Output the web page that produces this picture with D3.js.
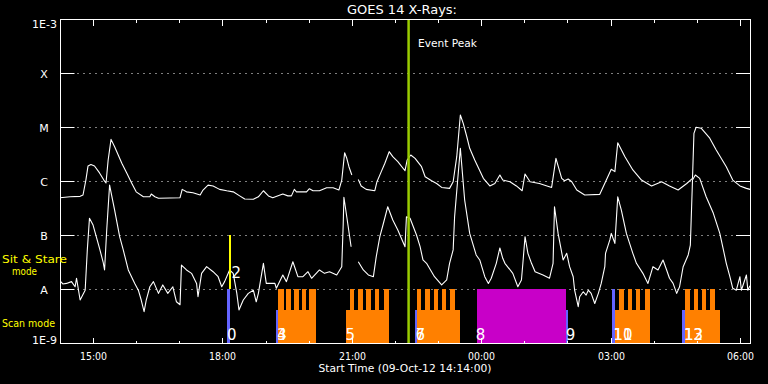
<!DOCTYPE html>
<html><head><meta charset="utf-8">
<script src="https://cdn.jsdelivr.net/npm/d3@7"></script>
<style>html,body{margin:0;padding:0;background:#000;} svg{display:block;}</style>
</head><body><svg id="c" width="768" height="384"></svg>
<script>
// ---------- DATA ----------
const startTime = new Date(2012, 9, 9, 14, 14, 0);   // 09-Oct-12 14:14:00
const durationMin = 960;
const yTickValues = [1e-9, 1e-8, 1e-7, 1e-6, 1e-5, 1e-4, 1e-3];
const yTickLabels = ["1E-9", "A", "B", "C", "M", "X", "1E-3"];
const xTickFormat = "%H:%M";
// [minutes since start, flux W/m^2]  (1-8 A channel)
const longChannel = [[0,4.9e-7],[14,5.1e-7],[28,5.2e-7],[32,5.5e-7],[36,1.04e-6],[39,1.9e-6],[43,2.02e-6],[48,1.9e-6],[55,1.41e-6],[61,1.04e-6],[64,9.2e-7],[67,2.45e-6],[71,5.9e-6],[76,4.3e-6],[81,3.03e-6],[86,2.13e-6],[93,1.39e-6],[100,9.0e-7],[106,6.3e-7],[116,5.1e-7],[125,5.1e-7],[127,5.75e-7],[132,5.1e-7],[137,4.78e-7],[153,4.85e-7],[167,4.9e-7],[170,7.0e-7],[176,6.3e-7],[185,6.07e-7],[195,5.5e-7],[199,6.8e-7],[206,8.4e-7],[213,8.1e-7],[222,7.0e-7],[232,6.6e-7],[241,6.3e-7],[250,5.3e-7],[257,4.64e-7],[269,4.58e-7],[276,5.1e-7],[283,6.6e-7],[290,5.3e-7],[296,4.9e-7],[310,5.75e-7],[317,5.3e-7],[322,5.3e-7],[326,7.0e-7],[329,6.3e-7],[343,6.3e-7],[347,7.2e-7],[352,6.6e-7],[361,6.6e-7],[371,7.5e-7],[380,7.5e-7],[388,6.8e-7],[392,1.04e-6],[396,3.34e-6],[399,2.63e-6],[402,1.84e-6],[406,1.29e-6],[410,null],[415,1.07e-6],[419,8.1e-7],[426,7.0e-7],[438,6.6e-7],[441,9.7e-7],[447,1.49e-6],[452,2.13e-6],[458,3.49e-6],[463,2.82e-6],[470,2.28e-6],[480,1.55e-6],[483,2.45e-6],[488,3.03e-6],[494,2.63e-6],[503,1.84e-6],[508,1.2e-6],[517,1.01e-6],[524,9.0e-7],[531,7.6e-7],[542,7.3e-7],[547,9.7e-7],[552,2.82e-6],[557,1.67e-5],[561,1.17e-5],[566,6.6e-6],[570,4.03e-6],[577,2.45e-6],[589,1.12e-6],[598,8.1e-7],[605,9.0e-7],[612,1.29e-6],[616,1.04e-6],[626,9.7e-7],[635,8.1e-7],[643,6.6e-7],[647,1.35e-6],[654,9.7e-7],[667,9.0e-7],[684,7.6e-7],[690,2.63e-6],[698,1.12e-6],[702,1.01e-6],[707,1.09e-6],[712,9.7e-7],[719,6.8e-7],[730,5.5e-7],[751,5.66e-7],[759,9.7e-7],[767,1.65e-6],[772,1.49e-6],[776,5.1e-6],[786,2.82e-6],[797,1.6e-6],[809,1.04e-6],[823,8.1e-7],[837,9.7e-7],[848,8.1e-7],[860,6.8e-7],[872,9.0e-7],[880,1.12e-6],[882,7.6e-6],[885,9.9e-6],[892,9.5e-6],[904,6.2e-6],[913,3.75e-6],[927,1.84e-6],[936,1.04e-6],[946,8.1e-7],[955,7.3e-7],[960,7.0e-7]];
// (0.5-4 A channel)
const shortChannel = [[1,1.37e-8],[4,1.24e-8],[9,1.27e-8],[16,1.37e-8],[21,1.1e-8],[23,1.58e-8],[28,6.25e-9],[35,9.5e-9],[38,5.3e-8],[41,2.04e-7],[46,1.53e-7],[55,5.66e-8],[60,3.16e-8],[62,2.25e-8],[65,1.24e-7],[69,8.4e-7],[76,2.9e-7],[83,9.3e-8],[88,5.3e-8],[95,2.25e-8],[104,1.27e-8],[109,9.5e-9],[113,6.25e-9],[117,3.8e-9],[120,6.25e-9],[125,1.1e-8],[130,1.37e-8],[137,8.3e-9],[143,1.19e-8],[150,8.3e-9],[157,1.1e-8],[162,5.8e-9],[167,5.1e-9],[169,2.78e-8],[176,2.25e-8],[183,1.95e-8],[190,1.27e-8],[192,7.2e-9],[197,1.95e-8],[204,2.59e-8],[213,2.09e-8],[220,1.69e-8],[225,1.1e-8],[229,1.37e-8],[236,2.25e-8],[241,1.95e-8],[246,8.3e-9],[249,4.08e-9],[255,6.25e-9],[262,8.3e-9],[269,9.5e-9],[273,5.8e-9],[276,8.3e-9],[283,2.99e-8],[287,1.27e-8],[299,1.27e-8],[301,1.03e-8],[310,1.82e-8],[315,1.37e-8],[324,3.2e-8],[331,1.69e-8],[338,1.69e-8],[345,2.09e-8],[350,1.58e-8],[361,2.25e-8],[368,1.95e-8],[375,2.09e-8],[385,1.82e-8],[392,2.59e-8],[394,1.53e-7],[395,5.0e-7],[401,1.42e-7],[405,6.07e-8],[410,null],[415,3.2e-8],[422,2.25e-8],[429,1.82e-8],[436,1.69e-8],[440,3.97e-8],[445,9.3e-8],[450,1.65e-7],[456,3.34e-7],[463,1.9e-7],[470,1.24e-7],[480,6.07e-8],[482,2.18e-7],[487,2.04e-7],[496,1e-7],[501,6.07e-8],[505,3.45e-8],[510,2.99e-8],[521,1.69e-8],[531,1.19e-8],[538,1.47e-8],[542,2.99e-8],[547,5.3e-8],[549,2.18e-7],[557,4.03e-6],[563,4.45e-7],[570,1.07e-7],[579,4.27e-8],[584,3.45e-8],[591,1.69e-8],[596,1.27e-8],[600,1.58e-8],[607,2.99e-8],[612,5.75e-8],[616,3.7e-8],[619,2.99e-8],[630,1.95e-8],[637,1.1e-8],[642,1.47e-8],[644,2.99e-8],[647,9.3e-8],[651,4.58e-8],[656,2.99e-8],[661,2.09e-8],[672,1.82e-8],[681,1.58e-8],[686,2.99e-8],[688,3.34e-7],[693,1.07e-7],[700,3.45e-8],[705,4.58e-8],[709,2.59e-8],[714,1.69e-8],[716,9.5e-9],[721,4.7e-9],[723,7.2e-9],[728,8.9e-9],[732,7.7e-9],[735,9.5e-9],[739,8.3e-9],[744,5.4e-9],[749,8.3e-9],[753,1.27e-8],[758,2.59e-8],[759,4.58e-8],[765,8.1e-8],[767,1.07e-7],[772,7.0e-8],[776,5.1e-7],[781,2.9e-7],[788,1.07e-7],[797,4.58e-8],[802,2.99e-8],[811,1.95e-8],[818,1.27e-8],[825,2.59e-8],[832,2.25e-8],[839,3.45e-8],[844,2.25e-8],[848,1.58e-8],[853,1.27e-8],[858,8.3e-9],[862,1.1e-8],[867,2.59e-8],[874,4.27e-8],[877,6.5e-8],[880,1.04e-6],[884,1.29e-6],[890,1.12e-6],[899,5.1e-7],[909,2.52e-7],[918,1.07e-7],[923,5.3e-8],[927,2.99e-8],[932,1.69e-8],[936,1.03e-8],[941,9.5e-9],[946,1.69e-8],[948,9.5e-9],[955,1.82e-8],[957,9.5e-9],[960,1.15e-8]];
const eventPeakMin = 485;
// observation timeline (minutes since start)
const sitStareObs = [{start: 234.8, end: 238.0}];
const blueMarks = [{start: 232.5, end: 236.2, full: true}, {start: 300.2, end: 303.4, full: false}, {start: 493.6, end: 496.3, full: false}, {start: 703.6, end: 706.4, full: false}, {start: 768.6, end: 772.2, full: true}, {start: 866.0, end: 869.2, full: false}];
const scanBlocks = [
  {start: 303.4, end: 356.8, steps: [[303.4,311.3],[315.0,321.0],[325.2,332.2],[336.0,342.0],[346.5,356.8]]},
  {start: 397.6, end: 457.4, steps: [[403.1,409.1],[414.7,421.3],[426.4,432.8],[437.9,444.4],[450.4,457.4]]},
  {start: 496.3, end: 556.2, steps: [[496.3,502.9],[508.5,514.5],[520.0,526.0],[531.5,537.7],[543.2,550.2]]},
  {start: 772.2, end: 820.5, steps: [[777.8,784.7],[789.9,795.9],[801.0,807.0],[813.5,820.5]]},
  {start: 869.2, end: 917.9, steps: [[869.2,876.2],[881.8,888.3],[892.8,898.8],[903.9,910.8]]}
];
const rasterBlocks = [{start: 579.8, end: 704.6}];
const eventLabels = [
  {text: "0", t: 232.5, lane: "scan"}, {text: "2", t: 238.6, lane: "sit"},
  {text: "3", t: 302.0, lane: "scan"}, {text: "4", t: 302.0, lane: "scan"},
  {text: "5", t: 397.2, lane: "scan"}, {text: "6", t: 494.5, lane: "scan"},
  {text: "7", t: 494.5, lane: "scan"}, {text: "8", t: 578.4, lane: "scan"},
  {text: "9", t: 703.6, lane: "scan"}, {text: "11", t: 769.9, lane: "scan"},
  {text: "10", t: 769.9, lane: "scan"}, {text: "12", t: 868.0, lane: "scan"},
  {text: "13", t: 868.0, lane: "scan"}
];

// ---------- CHART ----------
const W = 768, H = 384;
const L = 60, R = 750, T = 19, B = 343;
const svg = d3.select("#c");
svg.append("rect").attr("width", W).attr("height", H).attr("fill", "#000");
const FONT = "DejaVu Sans, Liberation Sans, sans-serif";
const tm = m => new Date(+startTime + m * 60000);
const x = d3.scaleTime().domain([startTime, tm(durationMin)]).range([L, R]);
const y = d3.scaleLog().domain([1e-9, 1e-3]).range([B, T]);
const px = v => Math.round(v) + 0.5;

// gridlines (dotted) and y ticks
const grid = svg.append("g");
yTickValues.slice(1, -1).forEach(v => {
  const yy = px(y(v) - 0.01);
  grid.append("line").attr("x1", 77.5).attr("x2", 736).attr("y1", yy).attr("y2", yy)
    .attr("stroke", "#fff").attr("stroke-width", 1).attr("stroke-dasharray", "1,5");
  grid.append("line").attr("x1", L).attr("x2", L + 14.5).attr("y1", yy).attr("y2", yy).attr("stroke", "#fff");
  grid.append("line").attr("x1", R - 14).attr("x2", R).attr("y1", yy).attr("y2", yy).attr("stroke", "#fff");
});

// curves
const clip = svg.append("clipPath").attr("id", "pc").append("rect")
  .attr("x", L).attr("y", T).attr("width", R - L + 1).attr("height", B - T);
const line = d3.line().defined(d => d[1] != null).x(d => x(tm(d[0]))).y(d => y(d[1]));
const curves = svg.append("g").attr("clip-path", "url(#pc)");
[longChannel, shortChannel].forEach(s => {
  curves.append("path").datum(s).attr("d", line).attr("fill", "none")
    .attr("stroke", "#fff").attr("stroke-width", 1.1).attr("stroke-linejoin", "round");
});

// observation lanes
const scanTop = y(1e-8), scanBot = y(1e-9);
const scanMid = scanTop + (scanBot - scanTop) * 0.39;
const sitTop = y(1e-7), sitBot = y(1e-8);
const obs = svg.append("g").attr("shape-rendering", "crispEdges");
const xr = (s, e) => ({x: x(tm(s)), w: x(tm(e)) - x(tm(s))});
scanBlocks.forEach(b => {
  const r = xr(b.start, b.end);
  obs.append("rect").attr("x", r.x).attr("y", scanMid).attr("width", r.w).attr("height", scanBot - scanMid).attr("fill", "#ff8000");
  b.steps.forEach(st => {
    const q = xr(st[0], st[1]);
    obs.append("rect").attr("x", q.x).attr("y", scanTop).attr("width", q.w).attr("height", scanMid - scanTop + 0.5).attr("fill", "#ff8000");
  });
});
rasterBlocks.forEach(b => {
  const r = xr(b.start, b.end);
  obs.append("rect").attr("x", r.x).attr("y", scanTop).attr("width", r.w).attr("height", scanBot - scanTop).attr("fill", "#c800c8");
});
blueMarks.forEach(b => {
  const r = xr(b.start, b.end);
  const top = b.full ? scanTop : scanMid;
  obs.append("rect").attr("x", r.x).attr("y", top).attr("width", r.w).attr("height", scanBot - top).attr("fill", "#6464ff");
});
sitStareObs.forEach(b => {
  const r = xr(b.start, b.end);
  obs.append("rect").attr("x", r.x).attr("y", sitTop).attr("width", r.w).attr("height", sitBot - sitTop).attr("fill", "#ffff00");
});

// event labels
eventLabels.forEach(l => {
  svg.append("text").attr("x", x(tm(l.t))).attr("y", l.lane === "scan" ? 339.5 : 278)
    .attr("fill", "#fff").attr("font-family", FONT).attr("font-size", 15)
    .text(l.text);
});

// event peak line
const xp = x(tm(eventPeakMin));
svg.append("line").attr("x1", xp).attr("x2", xp).attr("y1", T).attr("y2", B)
  .attr("stroke", "#99cc00").attr("stroke-width", 2.5);
svg.append("text").attr("x", 418).attr("y", 46.5).attr("fill", "#fff").attr("font-family", FONT)
  .attr("font-size", 11).attr("textLength", 59).attr("lengthAdjust", "spacingAndGlyphs").text("Event Peak");

// frame
svg.append("rect").attr("x", L + 0.5).attr("y", T + 0.5).attr("width", R - L).attr("height", B - T)
  .attr("fill", "none").attr("stroke", "#fff").attr("stroke-width", 1).attr("shape-rendering", "crispEdges");

// x ticks
const ticksG = svg.append("g").attr("shape-rendering", "crispEdges");
const hours = d3.timeHour.range(startTime, tm(durationMin + 1));
hours.forEach(h => {
  const major = h.getHours() % 3 === 0;
  const xx = px(x(h));
  const len = major ? 6.5 : 3.5;
  ticksG.append("line").attr("x1", xx).attr("x2", xx).attr("y1", T).attr("y2", T + len).attr("stroke", "#fff");
  ticksG.append("line").attr("x1", xx).attr("x2", xx).attr("y1", B + 1).attr("y2", B + 1 - len).attr("stroke", "#fff");
  if (major) {
    svg.append("text").attr("x", xx).attr("y", 359.5).attr("text-anchor", "middle")
      .attr("fill", "#fff").attr("font-family", FONT).attr("font-size", 10.5)
      .attr("textLength", 27).attr("lengthAdjust", "spacingAndGlyphs")
      .text(d3.timeFormat(xTickFormat)(h));
  }
});

// y labels
yTickValues.forEach((v, i) => {
  const yy = y(v);
  const lab = yTickLabels[i];
  const isNum = lab.length > 1;
  let base = yy + 4.5;
  if (i === 0) base = B + 0.5;
  if (i === yTickValues.length - 1) base = T + 8.5;
  const t = svg.append("text").attr("y", base).attr("fill", "#fff").attr("font-family", FONT)
    .attr("font-size", 11).text(lab);
  if (isNum) t.attr("x", 57).attr("text-anchor", "end").attr("textLength", 25).attr("lengthAdjust", "spacingAndGlyphs");
  else t.attr("x", 44).attr("text-anchor", "middle");
});

// titles
svg.append("text").attr("x", 402).attr("y", 14).attr("text-anchor", "middle").attr("fill", "#fff")
  .attr("font-family", FONT).attr("font-size", 12).attr("textLength", 110).attr("lengthAdjust", "spacingAndGlyphs")
  .text("GOES 14 X-Rays:");
svg.append("text").attr("x", 405).attr("y", 372).attr("text-anchor", "middle").attr("fill", "#fff")
  .attr("font-family", FONT).attr("font-size", 10.5).attr("textLength", 173).attr("lengthAdjust", "spacingAndGlyphs")
  .text("Start Time (09-Oct-12 14:14:00)");

// mode labels
const yel = "#ffff00";
svg.append("text").attr("x", 2).attr("y", 263).attr("fill", yel).attr("font-family", FONT).attr("font-size", 11)
  .attr("textLength", 65).attr("lengthAdjust", "spacingAndGlyphs").text("Sit & Stare");
svg.append("text").attr("x", 12).attr("y", 275).attr("fill", yel).attr("font-family", FONT).attr("font-size", 11)
  .attr("textLength", 25).attr("lengthAdjust", "spacingAndGlyphs").text("mode");
svg.append("text").attr("x", 2).attr("y", 327).attr("fill", yel).attr("font-family", FONT).attr("font-size", 11)
  .attr("textLength", 53).attr("lengthAdjust", "spacingAndGlyphs").text("Scan mode");
</script></body></html>
